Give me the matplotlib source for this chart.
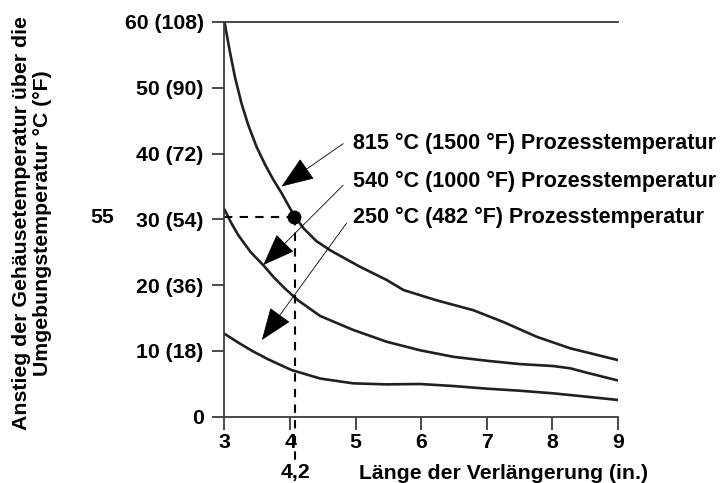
import numpy as np
import matplotlib
matplotlib.use("Agg")
import matplotlib.pyplot as plt

# curve data (x = extension length in inches, y = temperature rise in C)
x_815 = [3.0, 3.08, 3.16, 3.26, 3.36, 3.49, 3.62, 3.74, 3.87, 3.97, 4.06, 4.2, 4.4, 4.61,
         5.065, 5.47, 5.73, 6.23, 6.79, 7.25, 7.76, 8.27, 9.0]
y_815 = [60.0, 55.6, 51.6, 47.6, 44.4, 41.0, 38.3, 36.1, 34.0, 32.2, 30.6, 28.7, 26.7, 25.3,
         22.8, 20.8, 19.25, 17.7, 16.2, 14.4, 12.15, 10.4, 8.6]

x_540 = [3.0, 3.1, 3.21, 3.4, 3.59, 3.75, 3.92, 4.12, 4.46, 4.96, 5.47, 5.98, 6.49, 7.0,
         7.5, 8.01, 8.27, 8.52, 9.0]
y_540 = [31.5, 29.5, 27.6, 25.0, 23.05, 21.2, 19.5, 17.7, 15.3, 13.2, 11.4, 10.1, 9.1, 8.5,
         8.0, 7.7, 7.36, 6.7, 5.5]

x_250 = [3.0, 3.22, 3.44, 3.67, 4.02, 4.46, 4.96, 5.47, 5.98, 6.49, 7.0, 7.5, 8.01, 8.52, 9.0]
y_250 = [12.6, 11.2, 9.9, 8.7, 7.1, 5.8, 5.07, 4.91, 4.97, 4.66, 4.26, 3.95, 3.55, 3.04, 2.54]

labels = ["815 °C (1500 °F) Prozesstemperatur",
          "540 °C (1000 °F) Prozesstemperatur",
          "250 °C (482 °F) Prozesstemperatur"]

xticks = [3, 4, 5, 6, 7, 8, 9]
yticks = [0, 10, 20, 30, 40, 50, 60]
yticklabels = ["0", "10 (18)", "20 (36)", "30 (54)", "40 (72)", "50 (90)", "60 (108)"]

# reading example
read_x = 4.08
read_y = 30.35

plt.rcParams['font.family'] = ['Liberation Sans', 'DejaVu Sans']
plt.rcParams['font.weight'] = 'bold'
fs = 15.3

fig = plt.figure(figsize=(7.2, 4.83), dpi=100)
ax = fig.add_axes([0.3118, 0.1373, 0.8583 - 0.3118, 0.9545 - 0.1373])

curve_col = "#231f20"
axis_col = "#3c3c3c"
for xs, ys in [(x_815, y_815), (x_540, y_540), (x_250, y_250)]:
    ax.plot(xs, ys, color=curve_col, lw=1.9, solid_capstyle='round',
            solid_joinstyle='round')

ax.set_xlim(3, 9)
ax.set_ylim(0, 60)
ax.spines['right'].set_visible(False)
for s in ['left', 'bottom', 'top']:
    ax.spines[s].set_color(axis_col)
    ax.spines[s].set_linewidth(1.3)

ax.set_xticks(xticks)
ax.set_yticks(yticks)
ax.set_yticklabels(yticklabels)
ax.tick_params(axis='both', direction='out', length=9, width=1.3, color=axis_col,
               labelsize=fs)
ax.tick_params(axis='y', pad=6)
ax.tick_params(axis='x', pad=3)
for t in ax.get_xticklabels() + ax.get_yticklabels():
    t.set_fontweight('bold')

# dashed reading lines
ax.plot([3, read_x], [read_y, read_y], color='black', lw=1.5, ls=(0, (4, 3.5)))
ax.plot([read_x, read_x], [read_y, -6.8], color='black', lw=1.5, ls=(0, (4, 3.5)),
        clip_on=False)
ax.plot([read_x - 0.02], [read_y], 'o', color='black', ms=9, clip_on=False)

ax.text(1.13, read_y, "55", fontsize=fs, fontweight='bold', ha='center', va='center')
ax.text(read_x, -8.5, "4,2", fontsize=fs, fontweight='bold', ha='center', va='center')

# arrows + labels
heads = [(3.87, 35.0), (3.59, 23.05), (3.57, 11.66)]
tails = [(4.81, 41.5), (4.81, 35.2), (4.86, 29.4)]
text_y = [41.5, 35.7, 30.3]
for lab, h, t, ty in zip(labels, heads, tails, text_y):
    ax.annotate("", xy=h, xytext=t,
                arrowprops=dict(arrowstyle="-|>,head_length=2.1,head_width=0.8",
                                mutation_scale=10, color='black', lw=0.6,
                                shrinkA=0, shrinkB=0))
    ax.text(4.96, ty, lab, fontsize=15.5, fontweight='bold', ha='left', va='center',
            clip_on=False)

ax.set_xlabel("Länge der Verlängerung (in.)", fontsize=fs, fontweight='bold')
ax.xaxis.set_label_coords(0.71, -0.145)
ax.xaxis.label.set_va('center')

ax.set_ylabel("Anstieg der Gehäusetemperatur über die\nUmgebungstemperatur °C (°F)",
              fontsize=fs, fontweight='bold', linespacing=1.15)
ax.yaxis.set_label_coords(-0.489, 0.491)
ax.yaxis.label.set_va('center')

plt.savefig("out.png", dpi=100)
plt.close()
